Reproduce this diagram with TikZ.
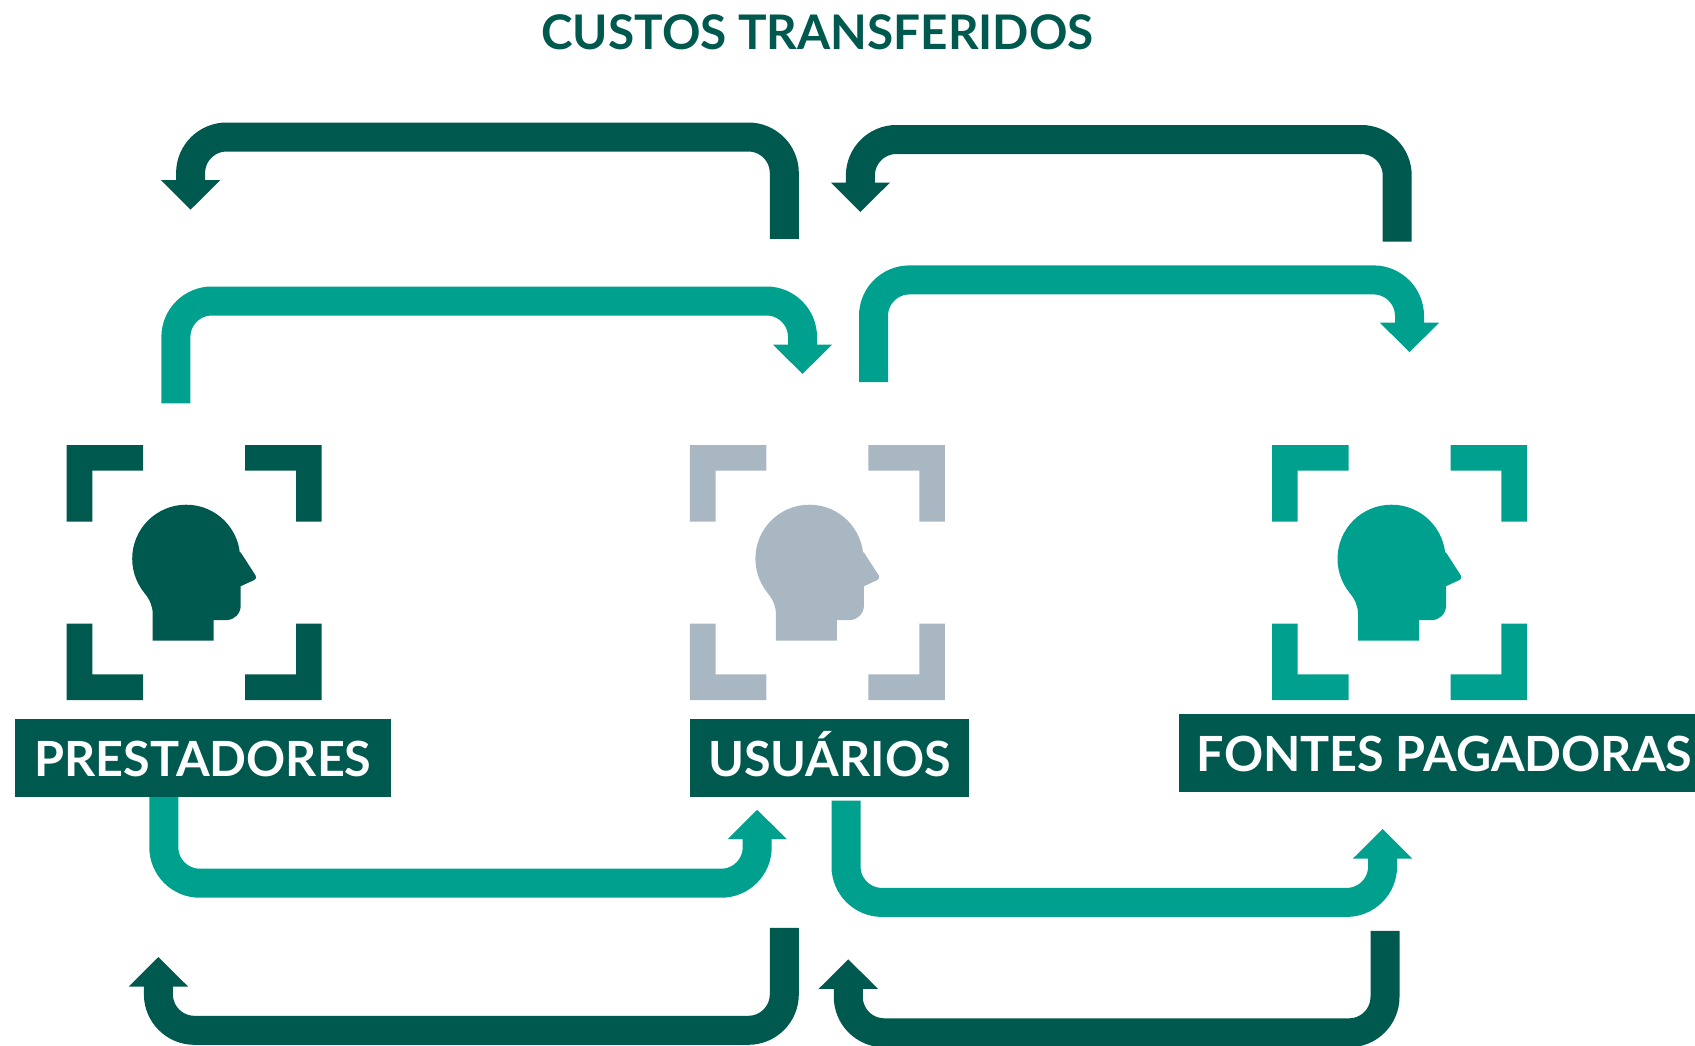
\documentclass[tikz,border=0pt]{standalone}
\usepackage{fontspec}
\setmainfont{Lato}[BoldFont={Lato Bold}]
\usetikzlibrary{arrows.meta}
\definecolor{deepgreen}{HTML}{00594F}
\definecolor{tealgreen}{HTML}{00A08E}
\definecolor{slategray}{HTML}{A9B7C3}
\tikzset{
  flow/.style={line width=29pt, rounded corners=36pt, line cap=butt,
    -{Triangle[width=57.5pt,length=29.5pt]}},
  flowdark/.style={flow, draw=deepgreen},
  flowteal/.style={flow, draw=tealgreen},
  labelbox/.style={fill=deepgreen, text=white, inner sep=0pt, text height=38pt, text depth=0pt,
    minimum height=78pt, font=\fontsize{48.5}{50}\selectfont\bfseries},
  titletext/.style={text=deepgreen, inner sep=0pt, font=\fontsize{47.7}{50}\selectfont\bfseries}
}
\newcommand{\personicon}[2]{%
  \begin{scope}[shift={(#1,445)}]
    \fill[#2] (0,0) -- (76.5,0) -- (76.5,25.6) -- (25.6,25.6) -- (25.6,76.5) -- (0,76.5) -- cycle;
    \fill[#2] (255,0) -- (178.5,0) -- (178.5,25.6) -- (229.4,25.6) -- (229.4,76.5) -- (255,76.5) -- cycle;
    \fill[#2] (0,255) -- (76.5,255) -- (76.5,229.4) -- (25.6,229.4) -- (25.6,178.5) -- (0,178.5) -- cycle;
    \fill[#2] (255,255) -- (178.5,255) -- (178.5,229.4) -- (229.4,229.4) -- (229.4,178.5) -- (255,178.5) -- cycle;
    \fill[#2] (119.5,113.7) circle[radius=54pt];
    \fill[#2] (174,107.4) -- (188.8,130.4) .. controls (190,132.4) and (189.5,134) .. (187.5,135)
      -- (174,141.2) -- (174,160.7) .. controls (174,168.5) and (167.7,175) .. (160,175)
      -- (147,175) -- (147,195.7) -- (86,195.7) -- (86,169)
      .. controls (86,161) and (83,154.5) .. (77.4,147.3) -- (119.5,113.7) -- cycle;
  \end{scope}}
\begin{document}
\begin{tikzpicture}[x=1pt,y=-1pt]
\useasboundingbox (0,0) rectangle (1695,1045);
% title
\node[titletext, anchor=base] (title) at (817.5,49.4) {CUSTOS TRANSFERIDOS};
% top arrows
\coordinate (a1s) at (784.3,238.9); \coordinate (a1e) at (190.6,209.7); \coordinate (a1m) at (400,137);
\draw[flowdark] (a1s) -- (a1s |- a1m) -- (a1e |- a1m) -- (a1e);
\coordinate (a2s) at (1397.2,241.6); \coordinate (a2e) at (860.4,212); \coordinate (a2m) at (1100,139.5);
\draw[flowdark] (a2s) -- (a2s |- a2m) -- (a2e |- a2m) -- (a2e);
\coordinate (b1s) at (175.9,403.3); \coordinate (b1e) at (802.5,374); \coordinate (b1m) at (400,301);
\draw[flowteal] (b1s) -- (b1s |- b1m) -- (b1e |- b1m) -- (b1e);
\coordinate (b2s) at (873.5,382.2); \coordinate (b2e) at (1409.5,352.2); \coordinate (b2m) at (1100,279.9);
\draw[flowteal] (b2s) -- (b2s |- b2m) -- (b2e |- b2m) -- (b2e);
% bottom arrows
\coordinate (c1s) at (163.8,790); \coordinate (c1e) at (757.2,809.7); \coordinate (c1m) at (400,883.2);
\draw[flowteal] (c1s) -- (c1s |- c1m) -- (c1e |- c1m) -- (c1e);
\coordinate (c2s) at (846,800.5); \coordinate (c2e) at (1382.6,829); \coordinate (c2m) at (1100,902.4);
\draw[flowteal] (c2s) -- (c2s |- c2m) -- (c2e |- c2m) -- (c2e);
\coordinate (d1s) at (784.3,927.9); \coordinate (d1e) at (158.4,957); \coordinate (d1m) at (400,1030.3);
\draw[flowdark] (d1s) -- (d1s |- d1m) -- (d1e |- d1m) -- (d1e);
\coordinate (d2s) at (1385,930.9); \coordinate (d2e) at (848.3,959.3); \coordinate (d2m) at (1100,1032.8);
\draw[flowdark] (d2s) -- (d2s |- d2m) -- (d2e |- d2m) -- (d2e);
% icons
\personicon{66.7}{deepgreen}
\personicon{689.9}{slategray}
\personicon{1272}{tealgreen}
% labels
\node[labelbox, minimum width=376pt] (prest) at (203,757.7) {PRESTADORES};
\node[labelbox, minimum width=279pt] (usu) at (829.5,757.7) {USUÁRIOS};
\node[labelbox, minimum width=516pt] (font) at (1437,752.6) {\hspace*{15pt}FONTES PAGADORAS};
\end{tikzpicture}
\end{document}
